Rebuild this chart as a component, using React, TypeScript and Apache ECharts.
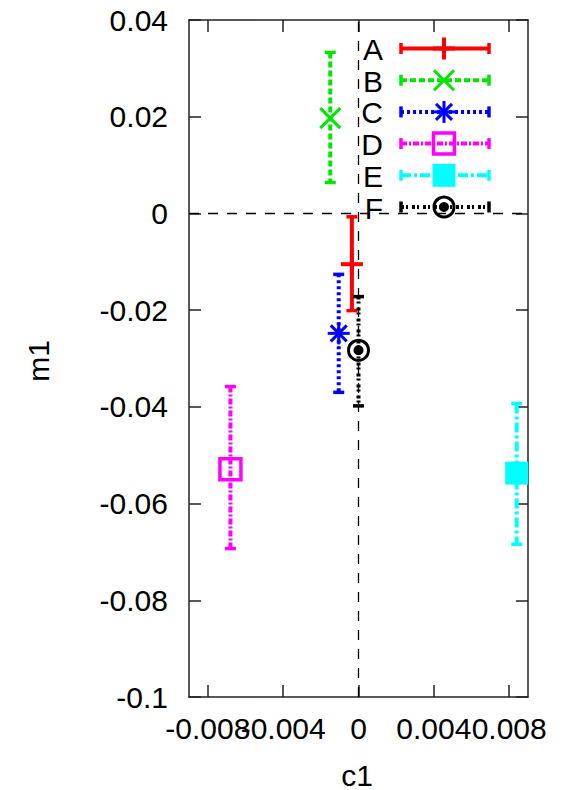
import React, { useEffect, useRef } from "react";
import * as echarts from "echarts";

const names = ["A", "B", "C", "D", "E", "F"];
const c1 = [-0.00035, -0.0015, -0.00105, -0.0068, 0.0084, 0.0];
const m1 = [-0.0105, 0.0197, -0.0248, -0.0529, -0.0537, -0.0283];
const m1Low = [-0.0201, 0.0064, -0.037, -0.0693, -0.0684, -0.0398];
const m1High = [-0.0007, 0.0333, -0.0126, -0.0358, -0.0393, -0.0172];
const xTicks = [-0.008, -0.004, 0, 0.004, 0.008];
const xLabelsA = [-0.008, 0, 0.008];
const xLabelsB = [-0.004, 0.004];
const yTicks = [0.04, 0.02, 0, -0.02, -0.04, -0.06, -0.08, -0.1];

const colors = ["#ff0000", "#00e600", "#0000ff", "#ff00ff", "#00ffff", "#000000"];
const kinds = ["plus", "cross", "star", "box", "boxFilled", "circleDot"];
const dashes: (number[] | null)[] = [null, [6, 3], [3, 3], [6, 2, 2, 2], [10, 3, 3, 3], [3, 2, 2, 4]];

const FONT = "Liberation Sans, Arial, sans-serif";
const FS = 30;

function markerEls(kind: string, cx: number, cy: number, color: string): any[] {
  const ln = (x1: number, y1: number, x2: number, y2: number, w: number) => ({
    type: "line",
    shape: { x1, y1, x2, y2 },
    style: { stroke: color, lineWidth: w, fill: null },
  });
  const h = 11;
  const d = 10;
  switch (kind) {
    case "plus":
      return [ln(cx - h, cy, cx + h, cy, 4), ln(cx, cy - h, cx, cy + h, 4)];
    case "cross":
      return [ln(cx - d, cy - d, cx + d, cy + d, 3), ln(cx - d, cy + d, cx + d, cy - d, 3)];
    case "star":
      return [
        ln(cx - h, cy, cx + h, cy, 3),
        ln(cx, cy - h, cx, cy + h, 3),
        ln(cx - 8, cy - 8, cx + 8, cy + 8, 3),
        ln(cx - 8, cy + 8, cx + 8, cy - 8, 3),
      ];
    case "box":
      return [
        {
          type: "rect",
          shape: { x: cx - 10.5, y: cy - 10.5, width: 21, height: 21 },
          style: { fill: "none", stroke: color, lineWidth: 3.5 },
        },
      ];
    case "boxFilled":
      return [
        {
          type: "rect",
          shape: { x: cx - 11.5, y: cy - 11.5, width: 23, height: 23 },
          style: { fill: color, stroke: null },
        },
      ];
    default:
      return [
        {
          type: "circle",
          shape: { cx, cy, r: 10 },
          style: { fill: "none", stroke: color, lineWidth: 3 },
        },
        {
          type: "circle",
          shape: { cx, cy, r: 5 },
          style: { fill: color, stroke: null },
        },
      ];
  }
}

const fmt = (v: number) => String(parseFloat(Number(v).toFixed(4)));

export default function App() {
  const ref = useRef<HTMLDivElement>(null);
  useEffect(() => {
    if (!ref.current) return;
    const chart = echarts.init(ref.current, null, { renderer: "svg" });

    const series: any[] = names.map((name, i) => ({
      type: "custom",
      name,
      xAxisIndex: 0,
      yAxisIndex: 0,
      clip: false,
      z: 5,
      data: [[c1[i], m1[i], m1Low[i], m1High[i]]],
      renderItem: (params: any, api: any) => {
        const p = api.coord([api.value(0), api.value(1)]);
        const lo = api.coord([api.value(0), api.value(2)]);
        const hi = api.coord([api.value(0), api.value(3)]);
        const color = colors[i];
        const dash = dashes[i];
        const children: any[] = [
          {
            type: "line",
            shape: { x1: p[0], y1: hi[1], x2: p[0], y2: lo[1] },
            style: { stroke: color, lineWidth: 4, lineDash: dash || undefined },
          },
          {
            type: "line",
            shape: { x1: p[0] - 5.5, y1: hi[1], x2: p[0] + 5.5, y2: hi[1] },
            style: { stroke: color, lineWidth: 3.5 },
          },
          {
            type: "line",
            shape: { x1: p[0] - 5.5, y1: lo[1], x2: p[0] + 5.5, y2: lo[1] },
            style: { stroke: color, lineWidth: 3.5 },
          },
          ...markerEls(kinds[i], p[0], p[1], color),
        ];
        return { type: "group", children };
      },
    }));

    series.push({
      type: "scatter",
      name: "zero",
      data: [],
      silent: true,
      z: 1,
      markLine: {
        silent: true,
        symbol: ["none", "none"],
        label: { show: false },
        lineStyle: { color: "#000", width: 1.3, type: [10, 9] },
        data: [{ xAxis: 0 }, { yAxis: 0 }],
      },
    });

    const graphic: any[] = [];
    names.forEach((name, i) => {
      const y = 48.5 + i * 31.7;
      const color = colors[i];
      graphic.push({
        type: "text",
        x: 383,
        y: y + 1,
        style: {
          text: name,
          font: `${FS}px ${FONT}`,
          fill: "#000",
          align: "right",
          verticalAlign: "middle",
        },
        z: 10,
      });
      graphic.push({
        type: "line",
        shape: { x1: 401, y1: y, x2: 489, y2: y },
        style: { stroke: color, lineWidth: 4, lineDash: dashes[i] || undefined },
        z: 10,
      });
      graphic.push({
        type: "line",
        shape: { x1: 401, y1: y - 5.5, x2: 401, y2: y + 5.5 },
        style: { stroke: color, lineWidth: 3.5 },
        z: 10,
      });
      graphic.push({
        type: "line",
        shape: { x1: 489, y1: y - 5.5, x2: 489, y2: y + 5.5 },
        style: { stroke: color, lineWidth: 3.5 },
        z: 10,
      });
      markerEls(kinds[i], 444, y, color).forEach((el) => graphic.push({ ...el, z: 10 }));
    });
    graphic.push({
      type: "text",
      x: 357,
      y: 775,
      style: { text: "c1", font: `${FS}px ${FONT}`, fill: "#000", align: "center", verticalAlign: "middle" },
    });
    graphic.push({
      type: "text",
      x: 38,
      y: 361,
      rotation: Math.PI / 2,
      style: { text: "m1", font: `${FS}px ${FONT}`, fill: "#000", align: "center", verticalAlign: "middle" },
    });

    const axisLineStyle = { color: "#222", width: 1.5 };
    const tickCommon = { show: true, inside: true, length: 12, lineStyle: { color: "#222", width: 1.5 } };
    const xLabelStyle = {
      formatter: fmt,
      fontSize: FS,
      fontFamily: FONT,
      color: "#000",
      margin: 16,
      hideOverlap: false,
      showMinLabel: true,
      showMaxLabel: true,
    };

    chart.setOption({
      animation: false,
      grid: { left: 189, right: 40, top: 20, bottom: 93, containLabel: false },
      xAxis: [
        {
          type: "value",
          min: -0.009,
          max: 0.009,
          position: "bottom",
          splitLine: { show: false },
          axisLine: { show: true, onZero: false, lineStyle: axisLineStyle },
          axisTick: { ...tickCommon, customValues: xTicks },
          axisLabel: { ...xLabelStyle, customValues: xLabelsA },
        },
        {
          type: "value",
          min: -0.009,
          max: 0.009,
          position: "top",
          splitLine: { show: false },
          axisLine: { show: true, onZero: false, lineStyle: axisLineStyle },
          axisTick: { ...tickCommon, customValues: xTicks },
          axisLabel: { show: false },
        },
        {
          type: "value",
          min: -0.009,
          max: 0.009,
          position: "bottom",
          offset: 0,
          splitLine: { show: false },
          axisLine: { show: false, onZero: false },
          axisTick: { show: false },
          axisLabel: { ...xLabelStyle, customValues: xLabelsB },
        },
      ],
      yAxis: [
        {
          type: "value",
          min: -0.1,
          max: 0.04,
          position: "left",
          splitLine: { show: false },
          axisLine: { show: true, onZero: false, lineStyle: axisLineStyle },
          axisTick: { ...tickCommon, customValues: yTicks },
          axisLabel: {
            customValues: yTicks,
            formatter: fmt,
            fontSize: FS,
            fontFamily: FONT,
            color: "#000",
            margin: 21,
            hideOverlap: false,
            showMinLabel: true,
            showMaxLabel: true,
          },
        },
        {
          type: "value",
          min: -0.1,
          max: 0.04,
          position: "right",
          splitLine: { show: false },
          axisLine: { show: true, onZero: false, lineStyle: axisLineStyle },
          axisTick: { ...tickCommon, customValues: yTicks },
          axisLabel: { show: false },
        },
      ],
      series,
      graphic,
    });
    return () => chart.dispose();
  }, []);
  return (
    <div
      ref={ref}
      style={{ position: "fixed", left: 0, top: 0, width: 568, height: 790, background: "#fff" }}
    />
  );
}
